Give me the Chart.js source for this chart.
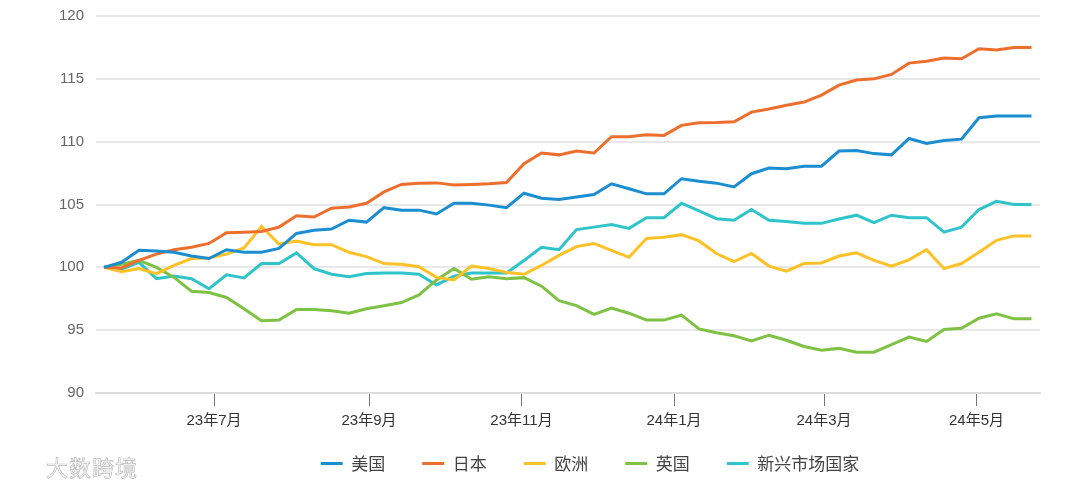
<!DOCTYPE html>
<html>
<head>
<meta charset="utf-8">
<script src="https://cdn.jsdelivr.net/npm/chart.js@4.4.1/dist/chart.umd.min.js"></script>
<style>
  html, body { margin: 0; padding: 0; background: #fff; }
  #wrap { position: relative; width: 1080px; height: 489px; }
  #mark {
    position: absolute; left: 46px; top: 450px;
    font: 22px "Noto Sans CJK SC", sans-serif; color: #fff;
    -webkit-text-stroke: 0.7px #bcbcbc; letter-spacing: 1px;
  }
</style>
</head>
<body>
<div id="wrap">
  <canvas id="indexChart" width="1080" height="489"></canvas>
  <div id="mark">大数跨境</div>
</div>
<script>
// weekly index, start = 100
var startDate = '2023-05-18';
var monthTicks = ['2023-07-01', '2023-09-01', '2023-11-01', '2024-01-01', '2024-03-01', '2024-05-01'];
var tickLabels = ['23年7月', '23年9月', '23年11月', '24年1月', '24年3月', '24年5月'];
var seriesNames = ['美国', '日本', '欧洲', '英国', '新兴市场国家'];
var seriesColors = ['#1b8dd1', '#ee6f2d', '#ffc226', '#7dc242', '#2ec4ca'];

var usa = [100, 100.4, 101.35, 101.3, 101.2, 100.9, 100.7, 101.4, 101.2, 101.2,
  101.5, 102.7, 102.95, 103.05, 103.75, 103.6, 104.75, 104.55, 104.55, 104.25,
  105.1, 105.1, 104.95, 104.75, 105.9, 105.5, 105.4, 105.6, 105.8, 106.65,
  106.25, 105.85, 105.85, 107.05, 106.85, 106.7, 106.4, 107.45, 107.9, 107.85,
  108.05, 108.05, 109.25, 109.3, 109.05, 108.95, 110.25, 109.85, 110.1, 110.2,
  111.9, 112.05, 112.05, 112.05];
var japan = [100, 99.95, 100.55, 101.05, 101.4, 101.6, 101.9, 102.75, 102.8, 102.85,
  103.2, 104.1, 104.0, 104.7, 104.8, 105.1, 106.0, 106.6, 106.7, 106.72,
  106.55, 106.6, 106.65, 106.75, 108.25, 109.1, 108.95, 109.25, 109.1, 110.4,
  110.4, 110.55, 110.5, 111.3, 111.5, 111.52, 111.58, 112.35, 112.6, 112.9,
  113.15, 113.7, 114.5, 114.9, 115.0, 115.35, 116.25, 116.4, 116.65, 116.6,
  117.4, 117.3, 117.5, 117.5];
var europe = [100, 99.65, 99.9, 99.5, 100.15, 100.7, 100.75, 101.05, 101.55, 103.25,
  101.85, 102.1, 101.8, 101.8, 101.2, 100.85, 100.3, 100.25, 100.05, 99.2,
  99.0, 100.1, 99.9, 99.6, 99.45, 100.15, 100.95, 101.65, 101.9, 101.35,
  100.8, 102.3, 102.4, 102.6, 102.1, 101.1, 100.45, 101.1, 100.1, 99.7,
  100.3, 100.35, 100.9, 101.15, 100.55, 100.1, 100.6, 101.4, 99.9, 100.3,
  101.2, 102.15, 102.5, 102.5];
var uk = [100, 100.25, 100.55, 100.0, 99.2, 98.1, 98.0, 97.6, 96.7, 95.75,
  95.8, 96.65, 96.65, 96.55, 96.35, 96.7, 96.95, 97.2, 97.8, 99.0,
  99.9, 99.05, 99.25, 99.1, 99.18, 98.5, 97.35, 96.95, 96.25, 96.75,
  96.35, 95.8, 95.8, 96.2, 95.1, 94.8, 94.55, 94.15, 94.6, 94.2,
  93.7, 93.4, 93.55, 93.25, 93.25, 93.85, 94.45, 94.1, 95.05, 95.15,
  95.95, 96.3, 95.9, 95.9];
var emerging = [100, 99.85, 100.4, 99.1, 99.3, 99.1, 98.3, 99.4, 99.15, 100.3,
  100.3, 101.15, 99.9, 99.45, 99.25, 99.5, 99.55, 99.55, 99.45, 98.6,
  99.3, 99.55, 99.55, 99.55, 100.55, 101.6, 101.4, 103.0, 103.2, 103.4,
  103.1, 103.95, 103.95, 105.1, 104.5, 103.87, 103.74, 104.6, 103.75, 103.65,
  103.5, 103.5, 103.85, 104.15, 103.55, 104.15, 103.95, 103.95, 102.8, 103.2,
  104.6, 105.25, 105.0, 105.0];

function dayOf(d) {
  return (Date.parse(d) - Date.parse(startDate)) / 864e5;
}
function weekly(arr) {
  return arr.map(function (v, i) { return { x: i * 7, y: v }; });
}

var allSeries = [usa, japan, europe, uk, emerging];
var datasets = allSeries.map(function (arr, k) {
  return {
    label: seriesNames[k],
    data: weekly(arr),
    borderColor: seriesColors[k],
    backgroundColor: seriesColors[k],
    borderWidth: 3,
    pointRadius: 0,
    tension: 0
  };
});

// legend sits right of canvas centre and a bit higher in the original
var legendShift = {
  id: 'legendShift',
  afterLayout: function (chart) {
    var lg = chart.legend;
    lg.left += 70;
    lg.right += 70;
    lg.top -= 16;
    lg.bottom -= 16;
  }
};

var ctx = document.getElementById('indexChart').getContext('2d');
var indexChart = new Chart(ctx, {
  type: 'line',
  data: { datasets: datasets },
  plugins: [legendShift],
  options: {
    responsive: false,
    animation: false,
    layout: { padding: { top: 16, right: 40, bottom: -9, left: 0 } },
    plugins: {
      tooltip: { enabled: false },
      legend: {
        position: 'bottom',
        labels: {
          boxWidth: 22,
          boxHeight: 3,
          padding: 37,
          color: '#444',
          font: { size: 17, family: '"Noto Sans CJK SC", sans-serif' },
          generateLabels: function (chart) {
            return Chart.defaults.plugins.legend.labels.generateLabels(chart).map(function (l) {
              l.lineWidth = 0;
              return l;
            });
          }
        }
      }
    },
    scales: {
      x: {
        type: 'linear',
        min: -3.2,
        max: 374.4,
        afterFit: function (s) { s.height = 41; },
        afterBuildTicks: function (s) {
          s.ticks = monthTicks.map(function (d) { return { value: dayOf(d) }; });
        },
        grid: {
          drawOnChartArea: false,
          tickLength: 13,
          tickColor: '#777',
          tickWidth: 1
        },
        border: { color: '#dcdcdc', width: 2 },
        ticks: {
          autoSkip: false,
          maxRotation: 0,
          padding: 7,
          color: '#333',
          font: { size: 15, lineHeight: 1, family: 'Arial, "Liberation Sans", "Noto Sans CJK SC", sans-serif' },
          callback: function (v, i) { return tickLabels[i]; }
        }
      },
      y: {
        min: 90,
        max: 120,
        afterFit: function (s) { s.width = 96; },
        grid: { color: '#e8e8e8', lineWidth: 2, drawTicks: false },
        border: { display: false },
        ticks: {
          stepSize: 5,
          padding: 12,
          color: '#666',
          font: { size: 15, lineHeight: 0.5, family: 'Arial, "Liberation Sans", sans-serif' }
        }
      }
    }
  }
});
</script>
</body>
</html>
